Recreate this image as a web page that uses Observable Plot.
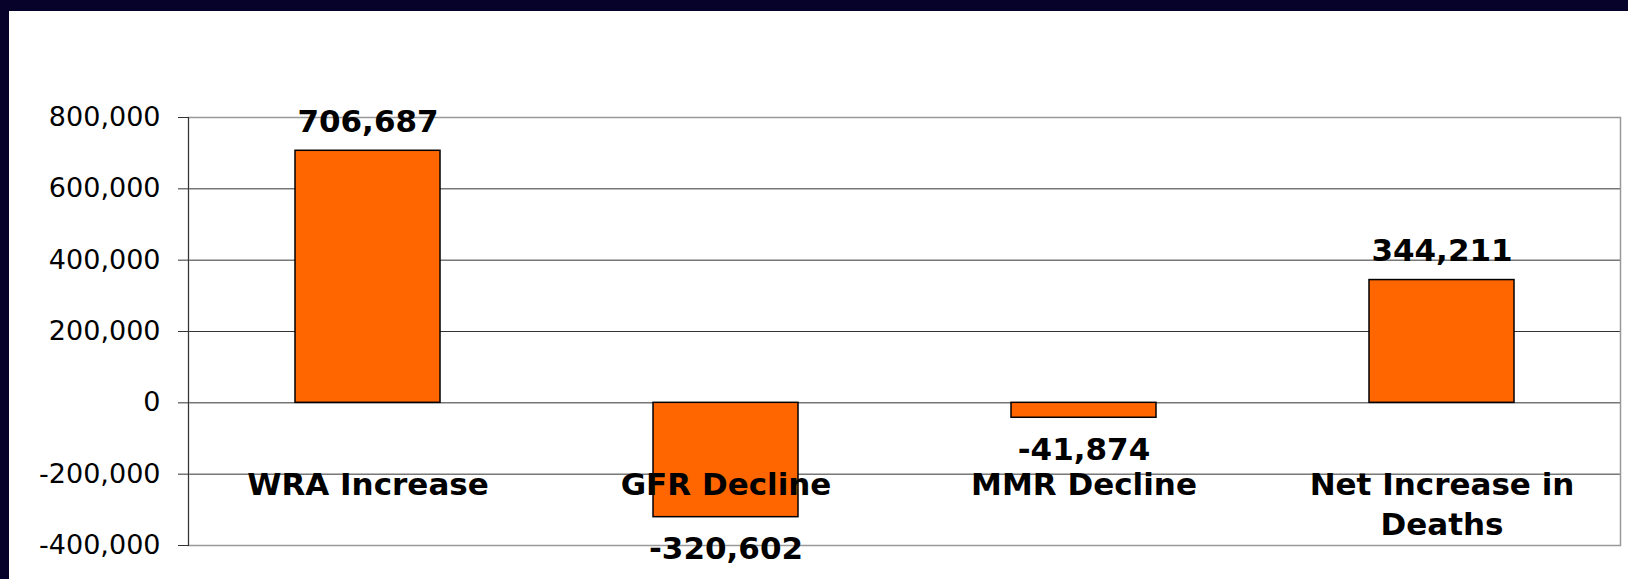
<!DOCTYPE html>
<html>
<head>
<meta charset="utf-8">
<script src="https://cdn.jsdelivr.net/npm/d3@7"></script>
<script src="https://cdn.jsdelivr.net/npm/@observablehq/plot@0.6"></script>
<style>
  html, body { margin: 0; padding: 0; background: #06022a; }
  #panel { position: absolute; left: 9px; top: 11px; width: 1619px; height: 568px; background: #fff; }
</style>
</head>
<body>
<div id="panel"></div>
<script>
const categories = ["WRA Increase", "GFR Decline", "MMR Decline", "Net Increase in\nDeaths"];
const values = [706687, -320602, -41874, 344211];
const yTicks = [-400000, -200000, 0, 200000, 400000, 600000, 800000];

const data = categories.map((c, i) => ({category: c, value: values[i]}));
const fmt = d => d.toLocaleString("en-US");

const chart = Plot.plot({
  width: 1619,
  height: 568,
  marginLeft: 179,
  marginRight: 8,
  marginTop: 106,
  marginBottom: 34,
  style: {fontFamily: "DejaVu Sans", background: "#fff", color: "#000", overflow: "visible"},
  x: {domain: categories, paddingInner: 0.595, paddingOuter: 0.2975, align: 0.5, label: null},
  y: {domain: [-400000, 800000], ticks: yTicks, label: null},
  marks: [
    Plot.gridY(yTicks, {stroke: "#333", strokeOpacity: 1, strokeWidth: 1}),
    Plot.frame({stroke: "#999", strokeWidth: 1.5}),
    Plot.frame({anchor: "left", stroke: "#333", strokeWidth: 1}),
    Plot.axisY(yTicks, {tickSize: 10, tickPadding: 18, tickFormat: fmt, fontSize: 27, stroke: "#333", label: null}),
    Plot.barY(data, {x: "category", y: "value", fill: "#ff6600", stroke: "#000", strokeWidth: 1.5}),
    Plot.axisX({anchor: "bottom", tickSize: 0, tickPadding: -79, fontSize: 31, fontWeight: "bold", lineHeight: 1.29, label: null}),
    Plot.text(data.filter(d => d.value >= 0), {x: "category", y: "value", text: d => fmt(d.value), lineAnchor: "bottom", dy: -19, fontSize: 31, fontWeight: "bold"}),
    Plot.text(data.filter(d => d.value < 0), {x: "category", y: "value", text: d => fmt(d.value), lineAnchor: "top", dy: 20, fontSize: 31, fontWeight: "bold"})
  ]
});
document.getElementById("panel").appendChild(chart);
</script>
</body>
</html>
